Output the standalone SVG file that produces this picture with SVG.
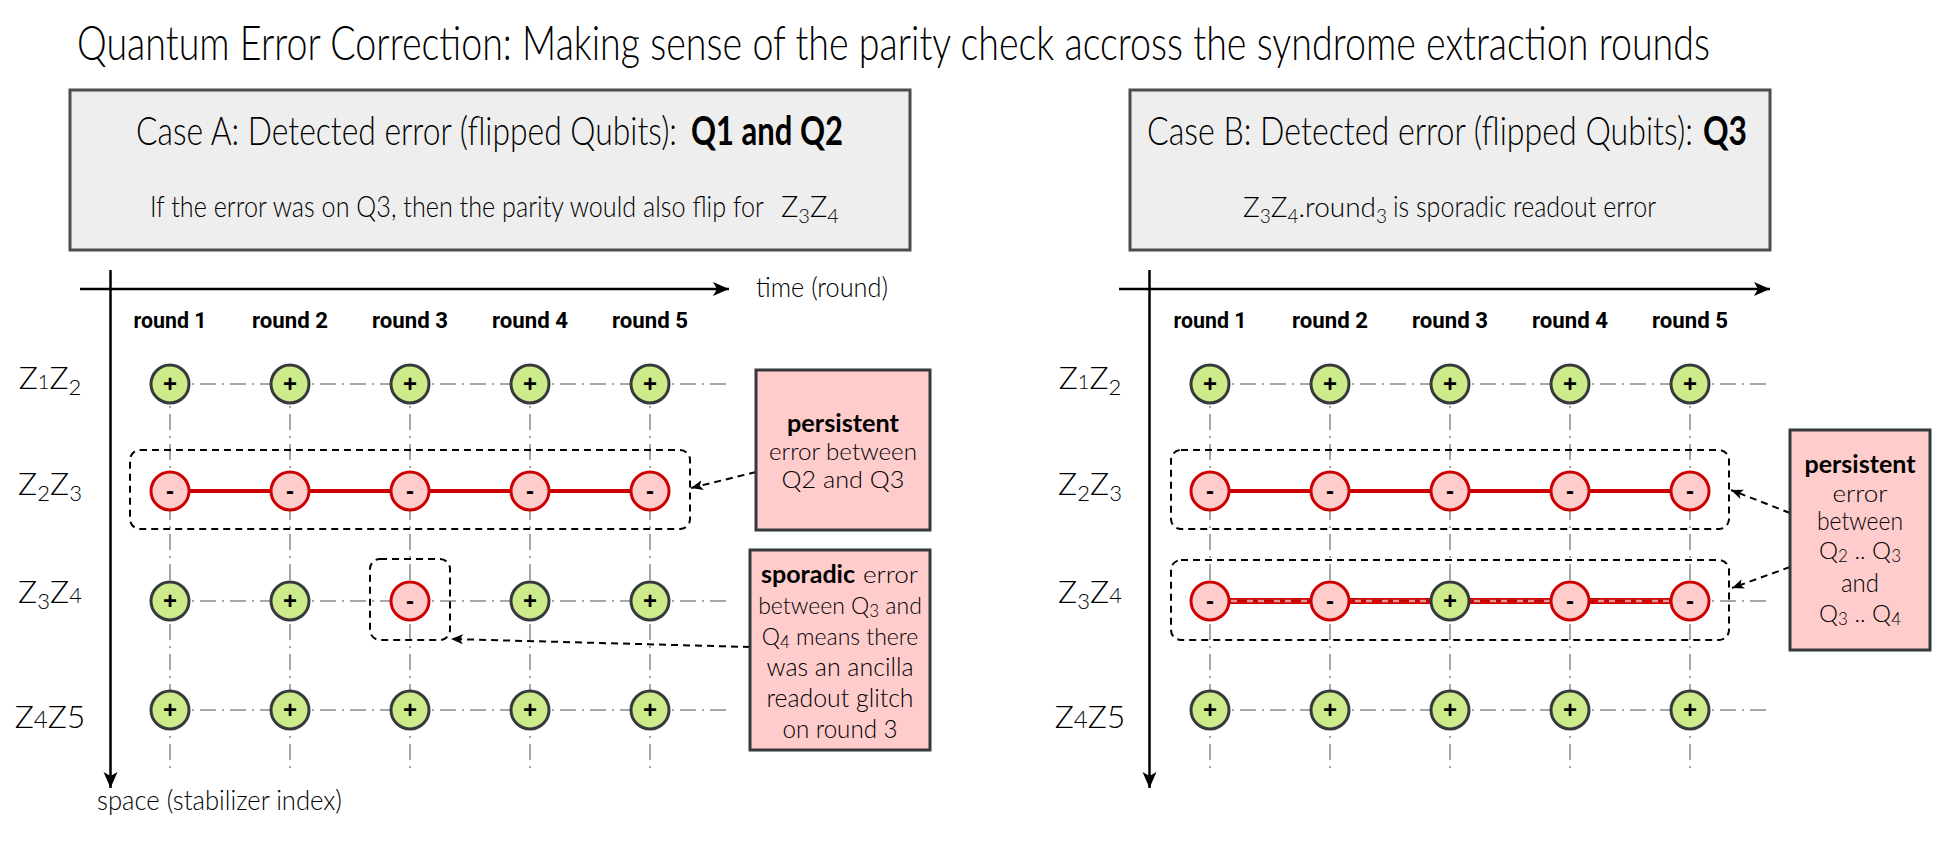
<svg xmlns="http://www.w3.org/2000/svg" width="1943" height="842" viewBox="0 0 1943 842">
<style>
.hw{font-family:Lato,"Liberation Sans","DejaVu Sans",sans-serif;font-weight:300;fill:#000}
.b{font-weight:700}
.mid{text-anchor:middle}
.rl{font-family:Roboto,"Liberation Sans",sans-serif;font-weight:700;font-size:22px;text-anchor:middle;fill:#000}
.grid{stroke:#a6a6a6;stroke-width:2;stroke-dasharray:16 6 2 6;fill:none}
.gn{fill:#cdeb8b;stroke:#36393d;stroke-width:3}
.rd{fill:#ffcccc;stroke:#cc0000;stroke-width:3}
.sg{font-family:"Liberation Sans",Arial,sans-serif;font-weight:700;font-size:24px;text-anchor:middle;fill:#000}
.hdr{fill:#eeeeee;stroke:#4d4d4d;stroke-width:3}
.note{fill:#ffcccc;stroke:#36393d;stroke-width:3}
.dbox{fill:none;stroke:#000;stroke-width:2;stroke-dasharray:7 5}
.axis{stroke:#000;stroke-width:2.5;fill:none}
.conn{stroke:#000;stroke-width:2;stroke-dasharray:7 5;fill:none}
.redl{stroke:#cc0000;stroke-width:4;fill:none}
.rowl{font-size:32px}
</style>
<defs>
<marker id="axArrow" markerUnits="userSpaceOnUse" markerWidth="18" markerHeight="16" refX="16" refY="7" orient="auto">
<path d="M0,0 L16,7 L0,14 L4,7 z" fill="#000"/>
</marker>
<marker id="dArrow" markerUnits="userSpaceOnUse" markerWidth="14" markerHeight="12" refX="12" refY="5" orient="auto">
<path d="M0,0 L12,5 L0,10 L3,5 z" fill="#000"/>
</marker>
</defs>

<rect width="1943" height="842" fill="#fff"/>

<text id="title" class="hw" transform="translate(77 60) scale(1 1.41)" font-size="34" textLength="1633" lengthAdjust="spacingAndGlyphs">Quantum Error Correction: Making sense of the parity check accross the syndrome extraction rounds</text>

<!-- Header boxes -->
<g id="caseA">
<rect class="hdr" x="70" y="90" width="840" height="160"/>
<text class="hw" transform="translate(136 145) scale(1 1.48)" font-size="27" textLength="541" lengthAdjust="spacingAndGlyphs">Case A: Detected error (flipped Qubits):</text>
<text class="hw b" transform="translate(691 145) scale(1 1.33)" font-size="30" textLength="152" lengthAdjust="spacingAndGlyphs">Q1 and Q2</text>
<text class="hw" transform="translate(150 217) scale(1 1.38)" font-size="21" textLength="614" lengthAdjust="spacingAndGlyphs">If the error was on Q3, then the parity would also flip for</text>
<text class="hw" x="781" y="217" font-size="29">Z<tspan font-size="20" dy="6">3</tspan><tspan dy="-6">Z</tspan><tspan font-size="20" dy="6">4</tspan></text>
</g>
<g id="caseB">
<rect class="hdr" x="1130" y="90" width="640" height="160"/>
<text class="hw" transform="translate(1147 145) scale(1 1.48)" font-size="27" textLength="546" lengthAdjust="spacingAndGlyphs">Case B: Detected error (flipped Qubits):</text>
<text class="hw b" transform="translate(1703 145) scale(1 1.25)" font-size="32" textLength="44" lengthAdjust="spacingAndGlyphs">Q3</text>
<text class="hw" x="1243" y="217" font-size="28">Z<tspan font-size="19" dy="6">3</tspan><tspan dy="-6">Z</tspan><tspan font-size="19" dy="6">4</tspan><tspan dy="-6">.round</tspan><tspan font-size="19" dy="6">3</tspan></text>
<text class="hw" transform="translate(1393 217) scale(1 1.38)" font-size="21" textLength="263" lengthAdjust="spacingAndGlyphs">is sporadic readout error</text>
</g>

<!-- Axes -->
<g id="axesA">
<line class="axis" x1="80" y1="289" x2="729" y2="289" marker-end="url(#axArrow)"/>
<line class="axis" x1="110.5" y1="270" x2="110.5" y2="788" marker-end="url(#axArrow)"/>
<text class="hw" transform="translate(756 297) scale(1 1.27)" font-size="22" textLength="132" lengthAdjust="spacingAndGlyphs">time (round)</text>
<text class="hw" transform="translate(97 810) scale(1 1.4)" font-size="20" textLength="245" lengthAdjust="spacingAndGlyphs">space (stabilizer index)</text>
</g>
<g id="axesB">
<line class="axis" x1="1119" y1="289" x2="1770" y2="289" marker-end="url(#axArrow)"/>
<line class="axis" x1="1149.5" y1="270" x2="1149.5" y2="788" marker-end="url(#axArrow)"/>
</g>

<!-- Round labels -->
<g id="roundsA">
<text class="rl" x="170" y="328" textLength="73" lengthAdjust="spacingAndGlyphs">round 1</text>
<text class="rl" x="290" y="328" textLength="76" lengthAdjust="spacingAndGlyphs">round 2</text>
<text class="rl" x="410" y="328" textLength="76" lengthAdjust="spacingAndGlyphs">round 3</text>
<text class="rl" x="530" y="328" textLength="76" lengthAdjust="spacingAndGlyphs">round 4</text>
<text class="rl" x="650" y="328" textLength="76" lengthAdjust="spacingAndGlyphs">round 5</text>
</g>
<g id="roundsB">
<text class="rl" x="1210" y="328" textLength="73" lengthAdjust="spacingAndGlyphs">round 1</text>
<text class="rl" x="1330" y="328" textLength="76" lengthAdjust="spacingAndGlyphs">round 2</text>
<text class="rl" x="1450" y="328" textLength="76" lengthAdjust="spacingAndGlyphs">round 3</text>
<text class="rl" x="1570" y="328" textLength="76" lengthAdjust="spacingAndGlyphs">round 4</text>
<text class="rl" x="1690" y="328" textLength="76" lengthAdjust="spacingAndGlyphs">round 5</text>
</g>

<!-- Row labels -->
<g id="rowsA" class="hw mid rowl">
<text x="50" y="389">Z<tspan font-size="20">1</tspan>Z<tspan font-size="22" dy="6">2</tspan></text>
<text x="50" y="495">Z<tspan font-size="22" dy="6">2</tspan><tspan dy="-6">Z</tspan><tspan font-size="22" dy="6">3</tspan></text>
<text x="50" y="603">Z<tspan font-size="22" dy="6">3</tspan><tspan dy="-6">Z</tspan><tspan font-size="22">4</tspan></text>
<text x="50" y="728">Z<tspan font-size="24">4</tspan>Z5</text>
</g>
<g id="rowsB" class="hw mid rowl">
<text x="1090" y="389">Z<tspan font-size="20">1</tspan>Z<tspan font-size="22" dy="6">2</tspan></text>
<text x="1090" y="495">Z<tspan font-size="22" dy="6">2</tspan><tspan dy="-6">Z</tspan><tspan font-size="22" dy="6">3</tspan></text>
<text x="1090" y="603">Z<tspan font-size="22" dy="6">3</tspan><tspan dy="-6">Z</tspan><tspan font-size="22">4</tspan></text>
<text x="1090" y="728">Z<tspan font-size="24">4</tspan>Z5</text>
</g>

<!-- Connectors: grid lines, error chains, callout arrows -->
<g id="connectors">
<path class="grid" d="M170,384V770M290,384V770M410,384V770M530,384V770M650,384V770"/>
<path class="grid" d="M170,384H727M170,601H727M170,710H727"/>
<line class="redl" x1="170" y1="491" x2="650" y2="491"/>
<path class="grid" d="M1210,384V770M1330,384V770M1450,384V770M1570,384V770M1690,384V770"/>
<path class="grid" d="M1210,384H1767M1210,601H1767M1210,710H1767"/>
<line class="redl" x1="1210" y1="491" x2="1690" y2="491"/>
<line x1="1210" y1="601" x2="1690" y2="601" stroke="#cc0000" stroke-width="6"/>
<line x1="1210" y1="601" x2="1690" y2="601" stroke="#e89a9a" stroke-width="2.5"/>
<line x1="1210" y1="601" x2="1690" y2="601" stroke="#cc0000" stroke-width="3" stroke-dasharray="10 6 5 6"/>
<rect class="dbox" x="130" y="450" width="560" height="79" rx="10"/>
<rect class="dbox" x="370" y="559" width="80" height="81" rx="10"/>
<rect class="dbox" x="1171" y="450" width="558" height="79" rx="10"/>
<rect class="dbox" x="1171" y="560" width="558" height="80" rx="10"/>
<line class="conn" x1="756" y1="472" x2="691" y2="488" marker-end="url(#dArrow)"/>
<line class="conn" x1="750" y1="647" x2="451" y2="639" marker-end="url(#dArrow)"/>
<line class="conn" x1="1790" y1="513" x2="1731" y2="490" marker-end="url(#dArrow)"/>
<line class="conn" x1="1790" y1="567" x2="1732" y2="588" marker-end="url(#dArrow)"/>
</g>

<!-- Case A nodes -->
<g id="A-r1-c1"><circle class="gn" cx="170" cy="384" r="19"/><text class="sg" x="170" y="392">+</text></g>
<g id="A-r1-c2"><circle class="gn" cx="290" cy="384" r="19"/><text class="sg" x="290" y="392">+</text></g>
<g id="A-r1-c3"><circle class="gn" cx="410" cy="384" r="19"/><text class="sg" x="410" y="392">+</text></g>
<g id="A-r1-c4"><circle class="gn" cx="530" cy="384" r="19"/><text class="sg" x="530" y="392">+</text></g>
<g id="A-r1-c5"><circle class="gn" cx="650" cy="384" r="19"/><text class="sg" x="650" y="392">+</text></g>
<g id="A-r2-c1"><circle class="rd" cx="170" cy="491" r="19"/><text class="sg" x="170" y="499">-</text></g>
<g id="A-r2-c2"><circle class="rd" cx="290" cy="491" r="19"/><text class="sg" x="290" y="499">-</text></g>
<g id="A-r2-c3"><circle class="rd" cx="410" cy="491" r="19"/><text class="sg" x="410" y="499">-</text></g>
<g id="A-r2-c4"><circle class="rd" cx="530" cy="491" r="19"/><text class="sg" x="530" y="499">-</text></g>
<g id="A-r2-c5"><circle class="rd" cx="650" cy="491" r="19"/><text class="sg" x="650" y="499">-</text></g>
<g id="A-r3-c1"><circle class="gn" cx="170" cy="601" r="19"/><text class="sg" x="170" y="609">+</text></g>
<g id="A-r3-c2"><circle class="gn" cx="290" cy="601" r="19"/><text class="sg" x="290" y="609">+</text></g>
<g id="A-r3-c3"><circle class="rd" cx="410" cy="601" r="19"/><text class="sg" x="410" y="609">-</text></g>
<g id="A-r3-c4"><circle class="gn" cx="530" cy="601" r="19"/><text class="sg" x="530" y="609">+</text></g>
<g id="A-r3-c5"><circle class="gn" cx="650" cy="601" r="19"/><text class="sg" x="650" y="609">+</text></g>
<g id="A-r4-c1"><circle class="gn" cx="170" cy="710" r="19"/><text class="sg" x="170" y="718">+</text></g>
<g id="A-r4-c2"><circle class="gn" cx="290" cy="710" r="19"/><text class="sg" x="290" y="718">+</text></g>
<g id="A-r4-c3"><circle class="gn" cx="410" cy="710" r="19"/><text class="sg" x="410" y="718">+</text></g>
<g id="A-r4-c4"><circle class="gn" cx="530" cy="710" r="19"/><text class="sg" x="530" y="718">+</text></g>
<g id="A-r4-c5"><circle class="gn" cx="650" cy="710" r="19"/><text class="sg" x="650" y="718">+</text></g>

<!-- Case B nodes -->
<g id="B-r1-c1"><circle class="gn" cx="1210" cy="384" r="19"/><text class="sg" x="1210" y="392">+</text></g>
<g id="B-r1-c2"><circle class="gn" cx="1330" cy="384" r="19"/><text class="sg" x="1330" y="392">+</text></g>
<g id="B-r1-c3"><circle class="gn" cx="1450" cy="384" r="19"/><text class="sg" x="1450" y="392">+</text></g>
<g id="B-r1-c4"><circle class="gn" cx="1570" cy="384" r="19"/><text class="sg" x="1570" y="392">+</text></g>
<g id="B-r1-c5"><circle class="gn" cx="1690" cy="384" r="19"/><text class="sg" x="1690" y="392">+</text></g>
<g id="B-r2-c1"><circle class="rd" cx="1210" cy="491" r="19"/><text class="sg" x="1210" y="499">-</text></g>
<g id="B-r2-c2"><circle class="rd" cx="1330" cy="491" r="19"/><text class="sg" x="1330" y="499">-</text></g>
<g id="B-r2-c3"><circle class="rd" cx="1450" cy="491" r="19"/><text class="sg" x="1450" y="499">-</text></g>
<g id="B-r2-c4"><circle class="rd" cx="1570" cy="491" r="19"/><text class="sg" x="1570" y="499">-</text></g>
<g id="B-r2-c5"><circle class="rd" cx="1690" cy="491" r="19"/><text class="sg" x="1690" y="499">-</text></g>
<g id="B-r3-c1"><circle class="rd" cx="1210" cy="601" r="19"/><text class="sg" x="1210" y="609">-</text></g>
<g id="B-r3-c2"><circle class="rd" cx="1330" cy="601" r="19"/><text class="sg" x="1330" y="609">-</text></g>
<g id="B-r3-c3"><circle class="gn" cx="1450" cy="601" r="19"/><text class="sg" x="1450" y="609">+</text></g>
<g id="B-r3-c4"><circle class="rd" cx="1570" cy="601" r="19"/><text class="sg" x="1570" y="609">-</text></g>
<g id="B-r3-c5"><circle class="rd" cx="1690" cy="601" r="19"/><text class="sg" x="1690" y="609">-</text></g>
<g id="B-r4-c1"><circle class="gn" cx="1210" cy="710" r="19"/><text class="sg" x="1210" y="718">+</text></g>
<g id="B-r4-c2"><circle class="gn" cx="1330" cy="710" r="19"/><text class="sg" x="1330" y="718">+</text></g>
<g id="B-r4-c3"><circle class="gn" cx="1450" cy="710" r="19"/><text class="sg" x="1450" y="718">+</text></g>
<g id="B-r4-c4"><circle class="gn" cx="1570" cy="710" r="19"/><text class="sg" x="1570" y="718">+</text></g>
<g id="B-r4-c5"><circle class="gn" cx="1690" cy="710" r="19"/><text class="sg" x="1690" y="718">+</text></g>

<!-- Notes -->
<g id="noteA-persistent">
<rect class="note" x="756" y="370" width="174" height="160"/>
<text class="hw b mid" transform="translate(843 432) scale(1 1.15)" font-size="22" textLength="112" lengthAdjust="spacingAndGlyphs">persistent</text>
<text class="hw mid" transform="translate(843 460) scale(1 1.1)" font-size="22" textLength="148" lengthAdjust="spacingAndGlyphs">error between</text>
<text class="hw mid" x="843" y="488" font-size="24" textLength="123" lengthAdjust="spacingAndGlyphs">Q2 and Q3</text>
</g>
<g id="noteA-sporadic">
<rect class="note" x="750" y="550" width="180" height="200"/>
<text class="hw b" transform="translate(761 583) scale(1 1.15)" font-size="22" textLength="94" lengthAdjust="spacingAndGlyphs">sporadic</text>
<text class="hw" transform="translate(863 583) scale(1 1.1)" font-size="22" textLength="55" lengthAdjust="spacingAndGlyphs">error</text>
<text class="hw mid" x="840" y="614" font-size="23">between Q<tspan font-size="17" dy="3">3</tspan><tspan dy="-3"> and</tspan></text>
<text class="hw mid" x="840" y="645" font-size="23">Q<tspan font-size="17" dy="3">4</tspan><tspan dy="-3"> means there</tspan></text>
<text class="hw mid" transform="translate(840 676) scale(1 1.12)" font-size="22" textLength="147" lengthAdjust="spacingAndGlyphs">was an ancilla</text>
<text class="hw mid" transform="translate(840 707) scale(1 1.12)" font-size="22" textLength="147" lengthAdjust="spacingAndGlyphs">readout glitch</text>
<text class="hw mid" transform="translate(840 738) scale(1 1.1)" font-size="23" textLength="115" lengthAdjust="spacingAndGlyphs">on round 3</text>
</g>
<g id="noteB-persistent">
<rect class="note" x="1790" y="430" width="140" height="220"/>
<text class="hw b mid" transform="translate(1860 473) scale(1 1.15)" font-size="22" textLength="111" lengthAdjust="spacingAndGlyphs">persistent</text>
<text class="hw mid" transform="translate(1860 502) scale(1 1.1)" font-size="22" textLength="55" lengthAdjust="spacingAndGlyphs">error</text>
<text class="hw mid" transform="translate(1860 530) scale(1 1.1)" font-size="23" textLength="86" lengthAdjust="spacingAndGlyphs">between</text>
<text class="hw mid" x="1860" y="559" font-size="24">Q<tspan font-size="17" dy="3">2</tspan><tspan dy="-3"> .. Q</tspan><tspan font-size="17" dy="3">3</tspan></text>
<text class="hw mid" transform="translate(1860 592) scale(1 1.1)" font-size="23" textLength="38" lengthAdjust="spacingAndGlyphs">and</text>
<text class="hw mid" x="1860" y="622" font-size="24">Q<tspan font-size="17" dy="3">3</tspan><tspan dy="-3"> .. Q</tspan><tspan font-size="17" dy="3">4</tspan></text>
</g>
</svg>
